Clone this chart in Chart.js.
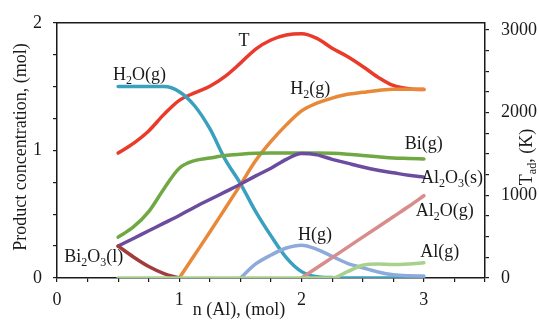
<!DOCTYPE html>
<html><head><meta charset="utf-8">
<script src="https://cdn.jsdelivr.net/npm/chart.js@4"></script>
<style>html,body{margin:0;padding:0;background:#fff;}canvas{display:block;}</style>
</head><body>
<canvas id="c" width="539" height="320"></canvas>
<script>
// ---- data ----
const nAl     = [0.5,0.625,0.75,0.875,1.0,1.125,1.25,1.375,1.5,1.625,1.75,1.875,2.0,2.125,2.25,2.375,2.5,2.625,2.75,2.875,3.0];
const T_ad    = [1512,1630,1780,1980,2150,2240,2320,2440,2600,2770,2880,2940,2955,2900,2780,2680,2560,2430,2330,2290,2280];
const H2O_g   = [1.50,1.50,1.50,1.50,1.46,1.35,1.17,0.93,0.74,0.52,0.33,0.16,0.05,0.01,0.003,0,0,0,0,0,0];
const H2_g    = [null,null,null,null,0,0.18,0.36,0.545,0.73,0.92,1.07,1.20,1.31,1.37,1.41,1.44,1.455,1.47,1.48,1.48,1.48];
const Bi_g    = [0.32,0.40,0.52,0.70,0.86,0.92,0.94,0.96,0.97,0.977,0.98,0.98,0.98,0.98,0.977,0.97,0.96,0.95,0.94,0.937,0.933];
const Al2O3_s = [0.25,0.31,0.37,0.43,0.49,0.555,0.615,0.675,0.735,0.80,0.86,0.93,0.975,0.965,0.93,0.90,0.87,0.845,0.825,0.805,0.79];
const Bi2O3_l = [0.25,0.165,0.09,0.035,0,null,null,null,null,null,null,null,null,null,null,null,null,null,null,null,null];
const H_g     = [null,null,null,null,null,null,null,null,0,0.11,0.18,0.235,0.257,0.225,0.17,0.115,0.08,0.047,0.025,0.017,0.015];
const Al2O_g  = [null,null,null,null,null,null,null,null,null,null,null,null,0,0.08,0.16,0.24,0.32,0.40,0.48,0.56,0.645];
const Al_g    = [0,0,0,0,0,0,0,0,0,0,0,0,0,0,0,0.05,0.10,0.11,0.105,0.11,0.12];

// ticks
const xTickValues = [0,0.25,0.5,0.75,1,1.25,1.5,1.75,2,2.25,2.5,2.75,3,3.25,3.5];
const xTickLabels = ['0','1','2','3'];
const yTickValues = [0,0.25,0.5,0.75,1,1.25,1.5,1.75,2];
const yTickLabels = ['0','1','2'];
const tTickValues = [0,250,500,750,1000,1250,1500,1750,2000,2250,2500,2750,3000];
const tTickLabels = ['0','1000','2000','3000'];

const seriesNames = ['Al(g)','Al2O(g)','H(g)','Bi2O3(l)','Al2O3(s)','Bi(g)','H2(g)','H2O(g)','T'];
const seriesData  = [Al_g, Al2O_g, H_g, Bi2O3_l, Al2O3_s, Bi_g, H2_g, H2O_g, T_ad];
const seriesColor = ['#a9d18e','#d98c8c','#8eaadb','#a23b3b','#6b4c9f','#70a844','#e8893a','#3aa0bf','#ea3a2c'];
const seriesAxis  = ['y','y','y','y','y','y','y','y','y2'];

const annotations = [
  {text:'T', x:1.53, y:1.86},
  {text:'H_2O(g)', x:0.675, y:1.60},
  {text:'H_2(g)', x:2.07, y:1.49},
  {text:'Bi(g)', x:3.0, y:1.06},
  {text:'Al_2O_3(s)', x:3.23, y:0.79},
  {text:'Al_2O(g)', x:3.17, y:0.53},
  {text:'H(g)', x:2.11, y:0.34},
  {text:'Al(g)', x:3.13, y:0.21},
  {text:'Bi_2O_3(l)', x:0.30, y:0.17}
];

const FONT = "'Liberation Serif', 'Times New Roman', serif";
const INK = '#1a1a1a';

function parseRich(text){
  const runs=[];
  for(let i=0;i<text.length;i++){
    if(text[i]==='_'){
      if(text[i+1]==='{'){ const j=text.indexOf('}',i); runs.push({t:text.slice(i+2,j),sub:true}); i=j; }
      else { runs.push({t:text[i+1],sub:true}); i++; }
    } else {
      if(runs.length && !runs[runs.length-1].sub) runs[runs.length-1].t+=text[i];
      else runs.push({t:text[i],sub:false});
    }
  }
  return runs;
}
function drawRich(ctx, text, cx, cy, size, rot){
  const runs=parseRich(text);
  const subSize=Math.round(size*0.68);
  let w=0;
  runs.forEach(r=>{ctx.font=(r.sub?subSize:size)+'px '+FONT; r.w=ctx.measureText(r.t).width; w+=r.w;});
  ctx.save();
  ctx.translate(cx,cy);
  if(rot) ctx.rotate(rot);
  ctx.fillStyle=INK;
  ctx.textBaseline='alphabetic';
  ctx.textAlign='left';
  let x=-w/2; const base=size*0.32;
  runs.forEach(r=>{ctx.font=(r.sub?subSize:size)+'px '+FONT; ctx.fillText(r.t,x,base+(r.sub?size*0.22:0)); x+=r.w;});
  ctx.restore();
}

const overlay = {
  id:'overlay',
  afterDraw(chart){
    const ctx=chart.ctx, a=chart.chartArea;
    ctx.save();
    ctx.strokeStyle=INK; ctx.lineWidth=1.5;
    ctx.beginPath(); ctx.moveTo(a.left,a.top); ctx.lineTo(a.right,a.top); ctx.stroke();
    ctx.restore();
    const xs=chart.scales.x, ys=chart.scales.y;
    annotations.forEach(l=>drawRich(ctx,l.text,xs.getPixelForValue(l.x),ys.getPixelForValue(l.y),18,0));
    drawRich(ctx,'n (Al), (mol)',239,309,18,0);
    drawRich(ctx,'Product concentration, (mol)',20,147,18,-Math.PI/2);
    drawRich(ctx,'T_{ad}, (K)',526,157,18,-Math.PI/2);
  }
};

function labelCb(list){ return v => list.includes(String(v)) ? String(v) : ''; }
const gridOpts = {display:true, drawOnChartArea:false, drawTicks:true, tickLength:4, color:INK, lineWidth:1.2};
const borderOpts = {display:true, color:INK, width:1.5};
const tickFont = {family:FONT, size:18};

new Chart(document.getElementById('c'), {
  type:'line',
  data:{
    datasets: seriesNames.map((n,i)=>({
      label:n,
      data: nAl.map((x,k)=>({x:x, y:seriesData[i][k]})),
      yAxisID: seriesAxis[i],
      borderColor: seriesColor[i],
      borderWidth: 3.5,
      pointRadius: 0,
      fill:false,
      spanGaps:false,
      cubicInterpolationMode:'monotone',
      borderCapStyle:'round',
      borderJoinStyle:'round'
    }))
  },
  options:{
    responsive:false, animation:false, devicePixelRatio:1,
    layout:{padding:{top:21,left:0,right:0,bottom:0}},
    plugins:{legend:{display:false}, tooltip:{enabled:false}},
    scales:{
      x:{type:'linear', min:0, max:3.5, position:'bottom',
         afterBuildTicks:s=>{s.ticks=xTickValues.map(v=>({value:v}));},
         afterFit:s=>{s.height=42;},
         ticks:{callback:labelCb(xTickLabels), font:tickFont, color:INK, padding:7, maxRotation:0, autoSkip:false},
         grid:gridOpts, border:borderOpts},
      y:{type:'linear', min:0, max:2, position:'left',
         afterBuildTicks:s=>{s.ticks=yTickValues.map(v=>({value:v}));},
         afterFit:s=>{s.width=57;},
         ticks:{callback:labelCb(yTickLabels), font:tickFont, color:INK, padding:11, autoSkip:false},
         grid:gridOpts, border:borderOpts},
      y2:{type:'linear', min:0, max:3088, position:'right',
         afterBuildTicks:s=>{s.ticks=tTickValues.map(v=>({value:v}));},
         afterFit:s=>{s.width=54;},
         ticks:{callback:labelCb(tTickLabels), font:tickFont, color:INK, padding:12, autoSkip:false},
         grid:gridOpts, border:borderOpts}
    }
  },
  plugins:[overlay]
});
</script>
</body></html>
